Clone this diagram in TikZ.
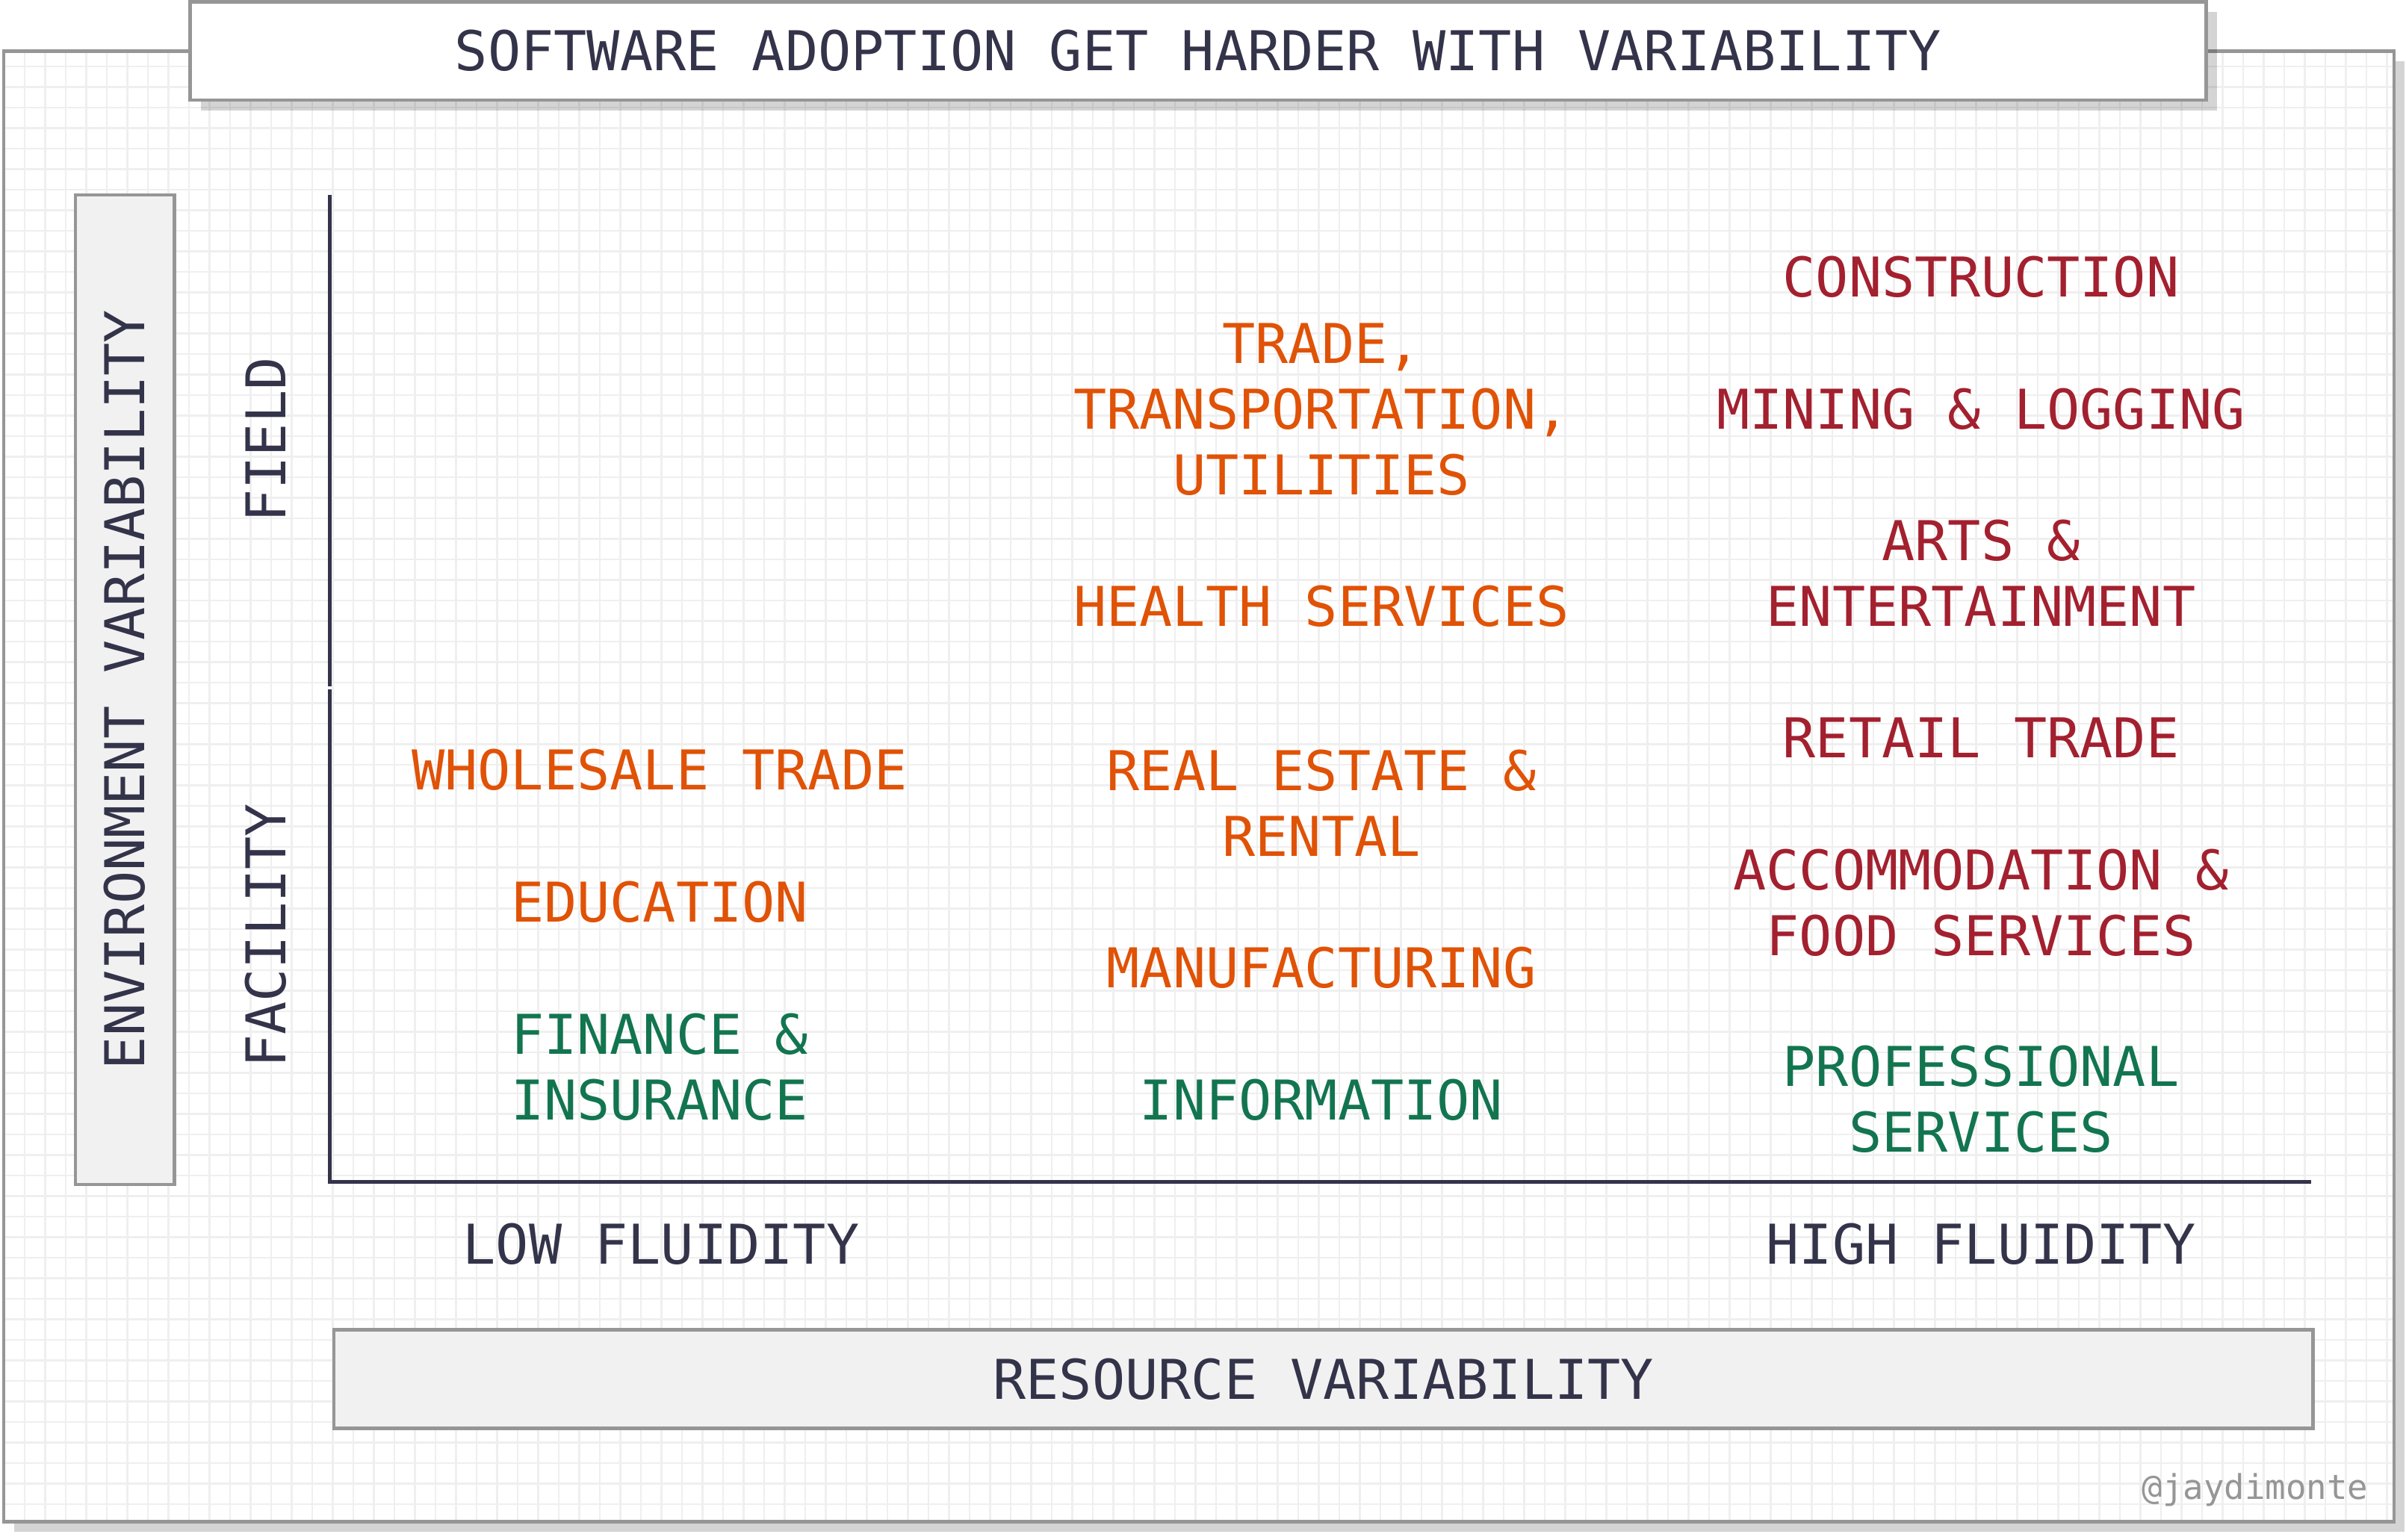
\documentclass[tikz,border=0pt]{standalone}
\usepackage{fontspec}
\newfontfamily\chartfont{DejaVu Sans Mono}
\usetikzlibrary{shadows}

\definecolor{ink}{HTML}{33334A}
\definecolor{rim}{HTML}{969696}
\definecolor{paper}{HTML}{F1F1F1}
\definecolor{gridgray}{HTML}{EFEFEF}
\definecolor{hardred}{HTML}{A3202F}
\definecolor{midorange}{HTML}{E05206}
\definecolor{easygreen}{HTML}{127550}

\tikzset{
    rimline/.style={draw=rim, line width=0.046cm},
    lifted/.style={drop shadow={shadow xshift=0.14cm, shadow yshift=-0.14cm, fill=black, opacity=0.17}},
    bigtext/.style={font=\chartfont\fontsize{20.9}{25}\selectfont},
    labelbox/.style={rimline, bigtext, fill=paper, inner sep=0pt, text=ink},
    axisline/.style={draw=ink, line width=0.047cm},
    sector/.style={bigtext, align=center},
    hard/.style={sector, text=hardred},
    medium/.style={sector, text=midorange},
    easy/.style={sector, text=easygreen}
}

\begin{document}
\begin{tikzpicture}
    \useasboundingbox (0,0) rectangle (32.21,20.62);

    % Frame with grid paper
    \fill[white, lifted] (0.05,0.245) rectangle (32.05,19.935);
    \begin{scope}[shift={(0.055,0.205)}]
        \draw[gridgray, line width=0.028cm, step=0.275] (0,0.04) grid (31.99,19.7);
    \end{scope}
    \draw[rimline] (0.05,0.245) rectangle (32.05,19.935);

    % Title
    \node[rimline, lifted, fill=white, bigtext, text=ink, inner sep=0pt,
          minimum width=26.99cm, minimum height=1.317cm] (title) at (16.04,19.9385)
        {SOFTWARE ADOPTION GET HARDER WITH VARIABILITY};

    % Axis boxes
    \node[labelbox, rotate=90, minimum width=13.25cm, minimum height=1.325cm] (envbox)
        at (1.6725,11.385) {ENVIRONMENT VARIABILITY};
    \node[labelbox, minimum width=26.495cm, minimum height=1.32cm] (resbox)
        at (17.7175,2.155) {RESOURCE VARIABILITY};

    % Axes
    \coordinate (origin) at (4.417,4.795);
    \coordinate (ytop) at (4.417,18.01);
    \coordinate (gaptop) at (4.417,11.43);
    \coordinate (gapbot) at (4.417,11.39);
    \coordinate (xend) at (30.94,4.795);
    \draw[axisline] (ytop) -- (gaptop);
    \draw[axisline] (gapbot) -- (origin) -- (xend);

    % Axis labels
    \node[sector, text=ink, rotate=90] (field) at (3.56,14.73) {FIELD};
    \node[sector, text=ink, rotate=90] (facility) at (3.56,8.09) {FACILITY};
    \node[sector, text=ink] (lowfl) at (8.85,3.96) {LOW FLUIDITY};
    \node[sector, text=ink] (highfl) at (26.52,3.96) {HIGH FLUIDITY};

    % Low fluidity column
    \node[medium] (wholesale) at (8.83,10.31) {WHOLESALE TRADE};
    \node[medium] (education) at (8.83,8.54) {EDUCATION};
    \node[easy] (finance) at (8.83,6.335) {FINANCE \&\\INSURANCE};

    % Middle column
    \node[medium] (trade) at (17.69,15.136) {TRADE,\\TRANSPORTATION,\\UTILITIES};
    \node[medium] (health) at (17.69,12.507) {HEALTH SERVICES};
    \node[medium] (realestate) at (17.69,9.868) {REAL ESTATE \&\\RENTAL};
    \node[medium] (manufacturing) at (17.69,7.66) {MANUFACTURING};
    \node[easy] (information) at (17.69,5.893) {INFORMATION};

    % High fluidity column
    \node[hard] (construction) at (26.52,16.913) {CONSTRUCTION};
    \node[hard] (mining) at (26.52,15.145) {MINING \& LOGGING};
    \node[hard] (arts) at (26.52,12.95) {ARTS \&\\ENTERTAINMENT};
    \node[hard] (retail) at (26.52,10.74) {RETAIL TRADE};
    \node[hard] (accommodation) at (26.52,8.532) {ACCOMMODATION \&\\FOOD SERVICES};
    \node[easy] (professional) at (26.52,5.903) {PROFESSIONAL\\SERVICES};

    % Signature
    \node[font=\chartfont\fontsize{13}{15}\selectfont, text=rim, anchor=base] (credit)
        at (30.19,0.54) {@jaydimonte};
\end{tikzpicture}
\end{document}
